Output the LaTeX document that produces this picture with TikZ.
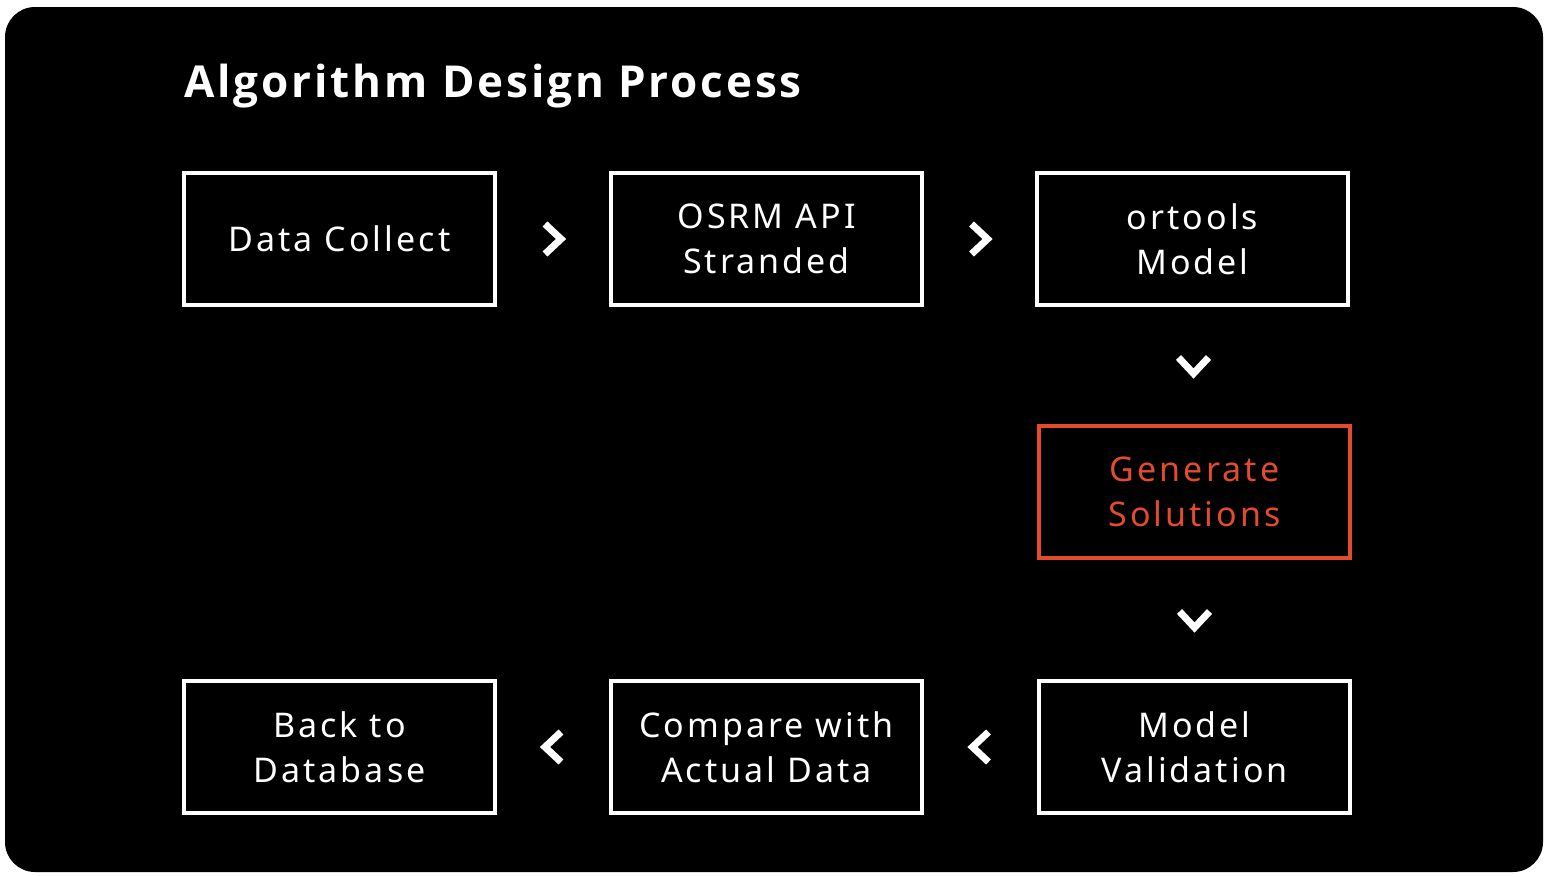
\documentclass[tikz,border=0pt]{standalone}
\usepackage{fontspec}
\setmainfont{Noto Sans}[LetterSpace=9]
\newfontfamily\titlefont{Open Sans}[LetterSpace=6.5]
\usetikzlibrary{calc}
\definecolor{genred}{RGB}{226,75,45}

\begin{document}
\begin{tikzpicture}[x=1pt,y=-1pt, line join=miter,
    stepbox/.style={draw=white, line width=4pt, minimum width=311pt, minimum height=132pt,
        inner sep=0pt, align=center, text=white, font=\fontsize{34}{45}\selectfont},
    chev/.style={draw=white, line width=7pt}]
                \useasboundingbox (0,0) rectangle (1548,876);
                \fill [white] (0,0) rectangle (1548,876);
                \fill [black, rounded corners=30pt] (5,7) rectangle (1543,872);
                \node [anchor=base west, text=white, font=\fontsize{44}{54}\titlefont\bfseries] (title) at (181,97) {Algorithm Design Process};
                % top row
                \node [stepbox] (collect) at (339.5,239) {Data Collect};
                \node [stepbox] (osrm) at (766.5,239) {OSRM API\\Stranded};
                \node [stepbox] (ortools) at (1192.5,239) {ortools\\Model};
                % right column
                \node [stepbox, draw=genred, text=genred] (generate) at (1194.5,492) {Generate\\Solutions};
                % bottom row
                \node [stepbox] (validation) at (1194.5,747) {Model\\Validation};
                \node [stepbox] (compare) at (766.5,747) {Compare with\\Actual Data};
                \node [stepbox] (back) at (339.5,747) {Back to\\Database};
                % chevrons
                \foreach \a/\b in {collect/osrm, osrm/ortools}
                    {
                        \draw [chev] ($(\a.east)!.5!(\b.west)$) ++(-8,-15) -- ++(16,15) -- ++(-16,15);
                    }
                \foreach \a/\b in {ortools/generate, generate/validation}
                    {
                        \draw [chev] ($(\a.south)!.5!(\b.north)$) ++(-15,-8) -- ++(15,16) -- ++(15,-16);
                    }
                \foreach \a/\b in {validation/compare, compare/back}
                    {
                        \draw [chev] ($(\a.west)!.5!(\b.east)$) ++(8,-15) -- ++(-16,15) -- ++(16,15);
                    }
            \end{tikzpicture}
\end{document}
